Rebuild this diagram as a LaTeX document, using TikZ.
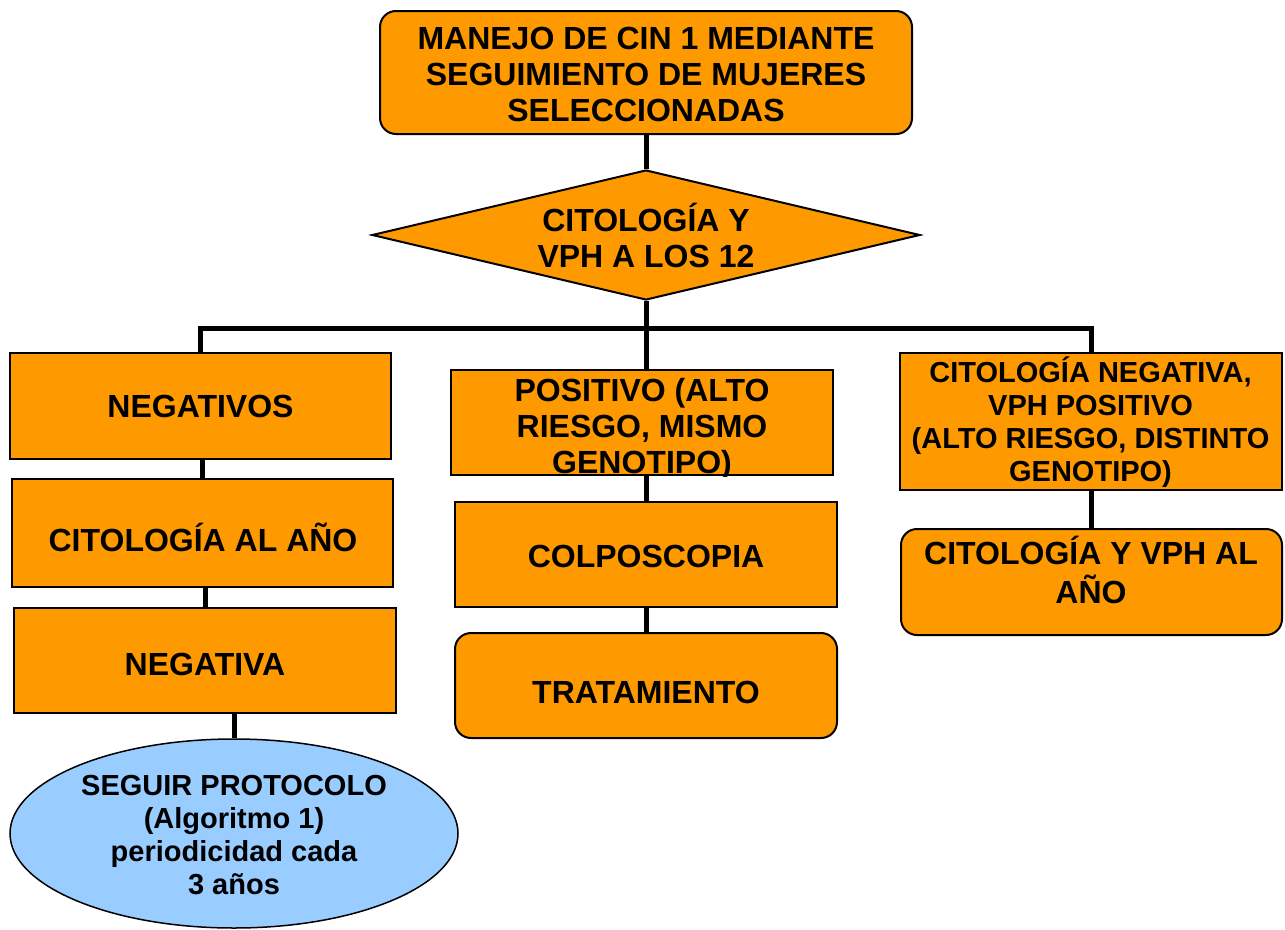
\documentclass[tikz,border=0pt]{standalone}
\usepackage{fontspec}
\setmainfont{Liberation Sans}
\usetikzlibrary{shapes.geometric}
\definecolor{orng}{HTML}{FF9900}
\definecolor{lblue}{HTML}{99CCFF}
\begin{document}
\begin{tikzpicture}[x=1pt,y=-1pt,
  txt/.style={font=\fontsize{32}{36}\selectfont\bfseries, align=center, inner sep=0pt},
  sq/.style={draw=black, line width=2pt, fill=orng, inner sep=0pt},
  rnd/.style={sq, rounded corners=16pt},
  conn/.style={line width=5pt, draw=black, line join=miter}]
\useasboundingbox (0,0) rectangle (1285,929);
\coordinate (bus) at (646,328);
% boxes
\node[rnd, minimum width=532, minimum height=123] (top) at (646,72.5) {};
\node[sq, diamond, aspect=4.2, minimum width=548, minimum height=130] (dia) at (646,235) {};
\node[sq, minimum width=381, minimum height=106] (neg) at (200.5,406) {};
\node[sq, minimum width=381, minimum height=108] (cit) at (202.5,533) {};
\node[sq, minimum width=382, minimum height=105] (nega) at (205,660.5) {};
\node[draw=black, line width=1.5pt, fill=lblue, ellipse, minimum width=448, minimum height=189, inner sep=0pt] (proto) at (234,833.5) {};
\node[sq, minimum width=382, minimum height=105] (pos) at (642,422.5) {};
\node[sq, minimum width=382, minimum height=105] (col) at (646,554.5) {};
\node[rnd, minimum width=382, minimum height=105] (tra) at (646,685.5) {};
\node[sq, minimum width=382, minimum height=137] (cneg) at (1091,421.5) {};
\node[rnd, minimum width=381, minimum height=106] (cyv) at (1091.5,582) {};
% connectors
\draw[conn] (top.south) -- (dia.north);
\draw[conn] (dia.south) -- (dia.south |- pos.north);
\draw[conn] (neg.north) -- (neg.north |- bus) -- (cneg.north |- bus) -- (cneg.north);
\draw[conn] (cit.north |- neg.south) -- (cit.north);
\draw[conn] (nega.north |- cit.south) -- (nega.north);
\draw[conn] (proto.north |- nega.south) -- (proto.north);
\draw[conn] (col.north |- pos.south) -- (col.north);
\draw[conn] (col.south) -- (tra.north);
\draw[conn] (cneg.south) -- (cneg.south |- cyv.north);
% texts
\node[txt] (ttop) at (646,74) {MANEJO DE CIN 1 MEDIANTE\\SEGUIMIENTO DE MUJERES\\SELECCIONADAS};
\node[txt] (tdia) at (646,235.5) {CITOLOGÍA Y\\VPH A LOS 12};
\node[txt, anchor=base] (tneg) at (200.5,417) {NEGATIVOS};
\node[txt, anchor=base] (tcit) at (203,551) {CITOLOGÍA AL AÑO};
\node[txt, anchor=base] (tnega) at (205,675) {NEGATIVA};
\node[txt, font=\fontsize{29}{33.3}\selectfont\bfseries] (tproto) at (234,835) {SEGUIR PROTOCOLO\\(Algoritmo 1)\\periodicidad cada\\3 años};
\begin{scope}
\clip (pos.south west) rectangle (pos.north east);
\node[txt] (tpos) at (642,429.3) {POSITIVO (ALTO\\RIESGO, MISMO\\GENOTIPO)};
\end{scope}
\node[txt, anchor=base] (tcol) at (646,567) {COLPOSCOPIA};
\node[txt, anchor=base] (ttra) at (646,703) {TRATAMIENTO};
\node[txt, font=\fontsize{29}{33.2}\selectfont\bfseries] (tcneg) at (1090.5,422.2) {CITOLOGÍA NEGATIVA,\\VPH POSITIVO\\(ALTO RIESGO, DISTINTO\\GENOTIPO)};
\node[txt, font=\fontsize{32}{39}\selectfont\bfseries] (tcyv) at (1091,570) {CITOLOGÍA Y VPH AL\\AÑO};
\end{tikzpicture}
\end{document}
